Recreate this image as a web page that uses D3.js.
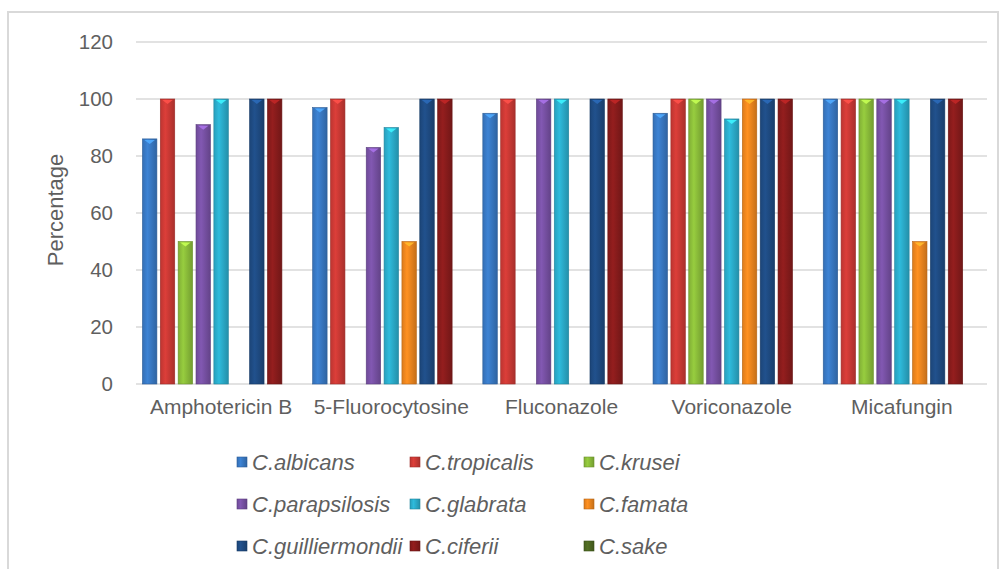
<!DOCTYPE html>
<html>
<head>
<meta charset="utf-8">
<script src="https://cdn.jsdelivr.net/npm/d3@7/dist/d3.min.js"></script>
<style>
html,body{margin:0;padding:0;background:#fff;}
svg{display:block;font-family:"Liberation Sans",Arial,sans-serif;}
</style>
</head>
<body>
<svg id="chart" width="1003" height="569"></svg>
<script>
const categories = ["Amphotericin B","5-Fluorocytosine","Fluconazole","Voriconazole","Micafungin"];
const seriesNames = ["C.albicans","C.tropicalis","C.krusei","C.parapsilosis","C.glabrata","C.famata","C.guilliermondii","C.ciferii","C.sake"];
const seriesColors = ["#3a7cc9","#d13b36","#8fc23c","#7b53a9","#2cb1d1","#f4891f","#1f4d86","#8c1c1c","#4f6a22"];
const albicans       = [86, 97, 95, 95, 100];
const tropicalis     = [100, 100, 100, 100, 100];
const krusei         = [50, 0, 0, 100, 100];
const parapsilosis   = [91, 83, 100, 100, 100];
const glabrata       = [100, 90, 100, 93, 100];
const famata         = [0, 50, 0, 100, 50];
const guilliermondii = [100, 100, 100, 100, 100];
const ciferii        = [100, 100, 100, 100, 100];
const sake           = [0, 0, 0, 0, 0];
const seriesValues = [albicans, tropicalis, krusei, parapsilosis, glabrata, famata, guilliermondii, ciferii, sake];
const yTicks = [0, 20, 40, 60, 80, 100, 120];

(function () {
const svg = d3.select("#chart");
const plotLeft = 136, plotRight = 987, plotTop = 42, plotBottom = 384;
const textColor = "#5f5f5f";

// outer frame
svg.append("rect").attr("x", 8).attr("y", 12).attr("width", 990).attr("height", 560)
  .attr("fill", "#fff").attr("stroke", "#d9d9d9").attr("stroke-width", 2);

const x0 = d3.scaleBand().domain(categories).range([plotLeft, plotRight]).padding(0);
const x1 = d3.scaleBand().domain(seriesNames).range([0, x0.bandwidth()]).paddingInner(0.19).paddingOuter(0.36);
const y = d3.scaleLinear().domain([0, 120]).range([plotBottom, plotTop]);

// gradients
const defs = svg.append("defs");
seriesColors.forEach((c, i) => {
  const g = defs.append("linearGradient").attr("id", "g" + i).attr("x1", "0").attr("x2", "1").attr("y1", "0").attr("y2", "0");
  g.append("stop").attr("offset", "0%").attr("stop-color", d3.color(c).darker(0.3));
  g.append("stop").attr("offset", "35%").attr("stop-color", d3.color(c).brighter(0.15));
  g.append("stop").attr("offset", "100%").attr("stop-color", d3.color(c).darker(0.6));
});

// gridlines
svg.append("g").selectAll("line").data(yTicks).join("line")
  .attr("x1", plotLeft).attr("x2", plotRight)
  .attr("y1", d => y(d)).attr("y2", d => y(d))
  .attr("stroke", "#d9d9d9").attr("stroke-width", 1.3);

// y axis labels
const yAxis = d3.axisLeft(y).tickValues(yTicks).tickSize(0).tickPadding(0);
const ya = svg.append("g").attr("transform", `translate(113,0)`).call(yAxis);
ya.select(".domain").remove();
ya.selectAll("text").attr("font-size", 20.5).attr("fill", textColor).attr("font-family", "Liberation Sans, Arial, sans-serif");

// x axis labels
const xAxis = d3.axisBottom(x0).tickSize(0).tickPadding(0);
const xa = svg.append("g").attr("transform", `translate(0,${plotBottom + 15})`).call(xAxis);
xa.select(".domain").remove();
xa.selectAll("text").attr("font-size", 21).attr("fill", textColor).attr("font-family", "Liberation Sans, Arial, sans-serif");

// y title
svg.append("text").attr("transform", "translate(63,210) rotate(-90)")
  .attr("text-anchor", "middle").attr("font-size", 22).attr("fill", textColor).text("Percentage");

// bars
const groups = svg.append("g").selectAll("g").data(categories).join("g")
  .attr("transform", d => `translate(${x0(d)},0)`);
groups.each(function(cat, ci) {
  const g = d3.select(this);
  seriesNames.forEach((s, si) => {
    const v = seriesValues[si][ci];
    if (!v) return;
    const bx = x1(s), bw = x1.bandwidth();
    g.append("rect").attr("x", bx).attr("y", y(v)).attr("width", bw).attr("height", y(0) - y(v))
      .attr("fill", `url(#g${si})`).attr("stroke", d3.color(seriesColors[si]).darker(0.8)).attr("stroke-width", 0.6);
    const c = d3.color(seriesColors[si]).brighter(0.9);
    g.append("path")
      .attr("d", `M${bx + 2},${y(v) + 1} L${bx + bw - 2},${y(v) + 1} L${bx + bw / 2},${y(v) + 5} Z`)
      .attr("fill", c).attr("opacity", 0.9);
  });
});

// legend
const legCols = [237, 410, 584];
const legRows = [462, 504, 546];
const leg = svg.append("g");
seriesNames.forEach((s, i) => {
  const col = i % 3, row = Math.floor(i / 3);
  const lx = legCols[col], ly = legRows[row];
  leg.append("rect").attr("x", lx).attr("y", ly - 5).attr("width", 10).attr("height", 10)
    .attr("fill", `url(#g${i})`).attr("stroke", d3.color(seriesColors[i]).darker(0.8)).attr("stroke-width", 0.6);
  leg.append("text").attr("x", lx + 15).attr("y", ly + 8).attr("font-size", 22).attr("font-style", "italic")
    .attr("fill", textColor).text(s);
});
})();
</script>
</body>
</html>
